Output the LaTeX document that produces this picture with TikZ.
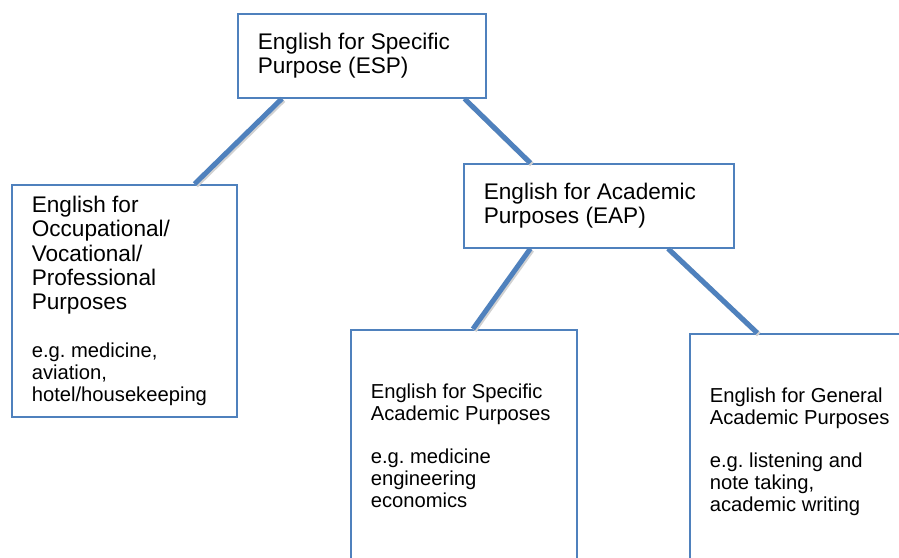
\documentclass[tikz,border=0pt]{standalone}
\usepackage{fontspec}
\setmainfont{Liberation Sans}
\usetikzlibrary{calc,shadows}
\frenchspacing
\definecolor{boxblue}{RGB}{79,129,189}
\newcommand{\headfont}{\fontsize{22.6pt}{24.3pt}\selectfont\spaceskip=0pt\xspaceskip=0pt}
\newcommand{\notefont}{\fontsize{20.2pt}{21.8pt}\selectfont\spaceskip=0pt\xspaceskip=0pt}
\tikzstyle{category} = [rectangle, draw=boxblue, line width=1.6pt, fill=white, anchor=north west, align=left, inner xsep=20pt, inner ysep=0pt, drop shadow={shadow xshift=1.5pt, shadow yshift=-1.5pt, fill=black, opacity=0.12}]
\tikzstyle{connector} = [draw=boxblue, line width=5pt, preaction={draw=black!18, line width=5pt, transform canvas={xshift=1.5pt, yshift=-1.5pt}}]

\begin{document}
\begin{tikzpicture}[x=1pt, y=-1pt]
        \useasboundingbox (0,0) rectangle (899,557);
        \fill [white] (0,0) rectangle (899,557);
        \clip (0,0) rectangle (899,557);
        \node (esp) [category, text width=208pt, minimum width=248pt, minimum height=84pt] at (237,13) {
            {\headfont English for Specific\\Purpose (ESP)\par}
        };
        \node (occupational) [category, text width=185pt, minimum width=225pt, minimum height=232pt] at (11,184) {
            {\headfont English for\\Occupational/\\Vocational/\\Professional\\Purposes\par}
            \vspace{26pt}
            {\notefont e.g. medicine,\\aviation,\\hotel/housekeeping\par}
        };
        \node (eap) [category, text width=230pt, minimum width=270pt, minimum height=84pt] at (463,163) {
            {\headfont English for Academic\\Purposes (EAP)\par}
        };
        \node (esap) [category, text width=186pt, minimum width=226pt, minimum height=232pt] at (350,329) {
            {\notefont English for Specific\\Academic Purposes\par}
            \vspace{21pt}
            {\notefont e.g. medicine\\engineering\\economics\par}
        };
        \node (egap) [category, text width=186pt, minimum width=226pt, minimum height=236pt] at (689,333) {
            {\notefont English for General\\Academic Purposes\par}
            \vspace{21pt}
            {\notefont e.g. listening and\\note taking,\\academic writing\par}
        };
        \draw [connector] ($(esp.south west)!0.18!(esp.south east)$) -- ($(occupational.north west)!0.81!(occupational.north east)$);
        \draw [connector] ($(esp.south west)!0.911!(esp.south east)$) -- ($(eap.north west)!0.248!(eap.north east)$);
        \draw [connector] ($(eap.south west)!0.248!(eap.south east)$) -- ($(esap.north west)!0.54!(esap.north east)$);
        \draw [connector] ($(eap.south west)!0.755!(eap.south east)$) -- ($(egap.north west)!0.30!(egap.north east)$);
    \end{tikzpicture}
\end{document}
